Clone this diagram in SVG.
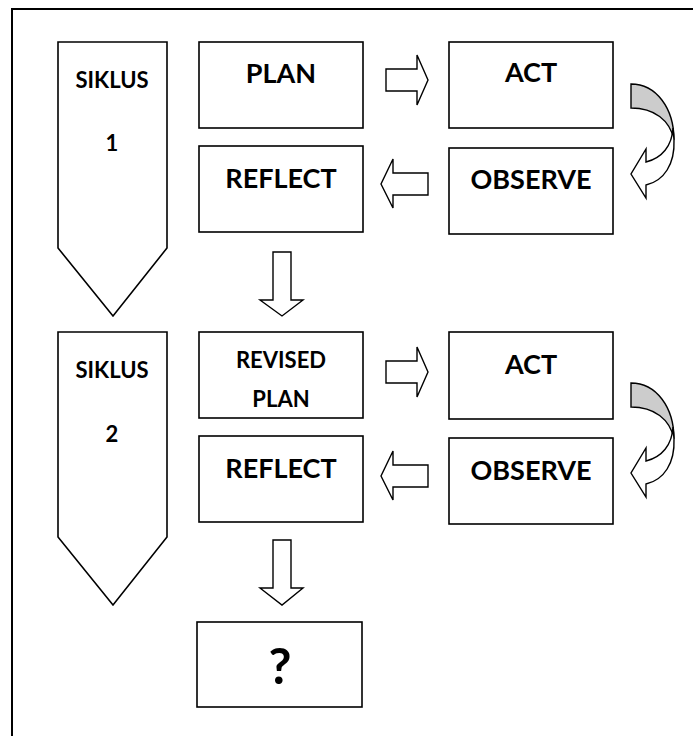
<svg xmlns="http://www.w3.org/2000/svg" width="693" height="736" viewBox="0 0 693 736">
<style>
.box{fill:#fff;stroke:#000;stroke-width:1.6}
.arr{fill:#fff;stroke:#000;stroke-width:1.4;stroke-linejoin:miter}
.back{fill:#cccccc;stroke:#000;stroke-width:1.4}
.lbl{font-family:Lato,"Open Sans","Liberation Sans",sans-serif;font-weight:bold;fill:#000;text-anchor:middle}
.big{font-size:27px}
.mid{font-size:22px}
</style>
<defs>
<g id="curved">
<path class="back" d="M631,84 C656,84 674,108 674,140 C670,120 654,108 631,108 Z"/>
<path class="arr" d="M673,128 C672,146 662,158 646,162 L646,149 L631,174 L646,198 L646,185 C664,181 675,164 674,140 Z"/>
</g>
</defs>
<rect x="0" y="0" width="693" height="736" fill="#fff"/>
<path d="M12,737 V9 H694" fill="none" stroke="#000" stroke-width="2"/>
<g id="connectors">
<path class="arr" d="M386,69 H417 V55 L428,80 L417,105 V91 H386 Z"/>
<path class="arr" d="M428,173 H393 V159 L381,184 L393,208 V195 H428 Z"/>
<path class="arr" d="M273,252 H291 V300 H303 L282,316 L260,300 H273 Z"/>
<path class="arr" d="M386,361 H417 V347 L428,372 L417,397 V383 H386 Z"/>
<path class="arr" d="M428,465 H393 V451 L381,476 L393,500 V487 H428 Z"/>
<path class="arr" d="M273,540 H291 V588 H303 L282,605 L260,588 H273 Z"/>
<use href="#curved"/>
<use href="#curved" transform="translate(0,299)"/>
</g>
<g id="siklus1">
<path class="box" d="M58,42 H167 V248 L113,316 L58,248 Z"/>
<text class="lbl mid" x="112" y="88">SIKLUS</text>
<text class="lbl mid" x="112" y="151">1</text>
</g>
<g id="plan">
<rect class="box" x="199" y="42" width="164" height="86"/>
<text class="lbl big" x="281" y="83">PLAN</text>
</g>
<g id="act1">
<rect class="box" x="449" y="42" width="164" height="86"/>
<text class="lbl big" x="531" y="82">ACT</text>
</g>
<g id="reflect1">
<rect class="box" x="199" y="146" width="164" height="86"/>
<text class="lbl big" x="281" y="188">REFLECT</text>
</g>
<g id="observe1">
<rect class="box" x="449" y="148" width="164" height="86"/>
<text class="lbl big" x="531" y="189">OBSERVE</text>
</g>
<g id="siklus2">
<path class="box" d="M58,332 H167 V537 L113,605 L58,537 Z"/>
<text class="lbl mid" x="112" y="378">SIKLUS</text>
<text class="lbl mid" x="112" y="442">2</text>
</g>
<g id="revised">
<rect class="box" x="199" y="332" width="164" height="86"/>
<text class="lbl mid" x="281" y="368">REVISED</text>
<text class="lbl mid" x="281" y="407">PLAN</text>
</g>
<g id="act2">
<rect class="box" x="449" y="332" width="164" height="87"/>
<text class="lbl big" x="531" y="374">ACT</text>
</g>
<g id="reflect2">
<rect class="box" x="199" y="436" width="164" height="86"/>
<text class="lbl big" x="281" y="478">REFLECT</text>
</g>
<g id="observe2">
<rect class="box" x="449" y="438" width="164" height="86"/>
<text class="lbl big" x="531" y="480">OBSERVE</text>
</g>
<g id="question">
<rect class="box" x="197" y="622" width="165" height="85"/>
<text class="lbl" x="280" y="684" font-size="50">?</text>
</g>
</svg>
